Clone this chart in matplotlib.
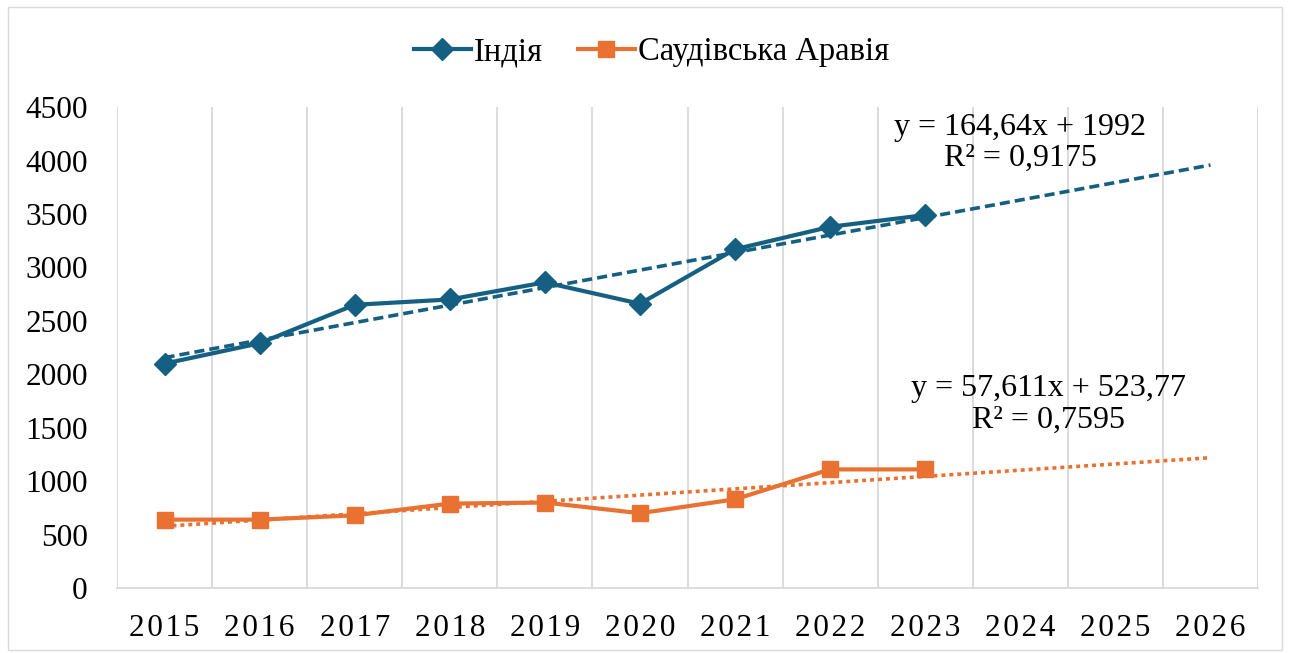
import numpy as np
import matplotlib.pyplot as plt
from matplotlib.patches import Rectangle

years = ['2015', '2016', '2017', '2018', '2019', '2020', '2021', '2022', '2023', '2024', '2025', '2026']
india = [2100, 2290, 2650, 2700, 2860, 2660, 3170, 3380, 3490]
saudi = [640, 640, 680, 790, 800, 700, 830, 1110, 1110]
india_eq = 'y = 164,64x + 1992\nR² = 0,9175'
saudi_eq = 'y = 57,611x + 523,77\nR² = 0,7595'

c_ind = '#156082'
c_sau = '#E97132'

plt.rcParams['font.family'] = ['Liberation Serif', 'DejaVu Serif']

fig = plt.figure(figsize=(12.9, 6.53), dpi=100)
ax = fig.add_axes([0.0907, 0.0995, 0.8845, 0.7365])
fig.patches.append(Rectangle((0.006, 0.005), 0.988, 0.984, transform=fig.transFigure,
                             fill=False, edgecolor='#d9d9d9', linewidth=1))

x_all = np.arange(len(years))
x_ind = np.arange(len(india))
x_sau = np.arange(len(saudi))

# linear trend lines (Excel style: x = 1..n), extended to the last category
p1 = np.polyfit(x_ind + 1, india, 1)
p2 = np.polyfit(x_sau + 1, saudi, 1)
ax.plot(x_all, np.polyval(p1, x_all + 1), color=c_ind, lw=2.6, ls=(0, (2.8, 1.4)), zorder=3)
ax.plot(x_all, np.polyval(p2, x_all + 1), color=c_sau, lw=2.6, ls=(0, (1.1, 1.1)), zorder=3)

ax.plot(x_ind, india, color=c_ind, lw=3, marker='D', ms=11, label='Індія', zorder=4)
ax.plot(x_sau, saudi, color=c_sau, lw=3, marker='s', ms=12, label='Саудівська Аравія', zorder=4)

ax.text(9.0, 4165, india_eq, ha='center', va='center', fontsize=23, linespacing=1.12)
ax.text(9.3, 1715, saudi_eq, ha='center', va='center', fontsize=23, linespacing=1.12)

ax.set_xlim(-0.5, len(years) - 0.5)
ax.set_ylim(0, 4500)
ax.set_yticks(np.arange(0, 4501, 500))
ax.set_xticks(x_all)
ax.set_xticklabels(['\u200a'.join(y) for y in years])
ax.set_xticks(np.arange(-0.5, len(years), 1), minor=True)
ax.grid(True, which='minor', axis='x', color='#d9d9d9', lw=1.3)
ax.tick_params(axis='both', which='both', length=0, labelsize=22.5)
ax.tick_params(axis='x', pad=19)
ax.tick_params(axis='y', pad=21)
for s in ['top', 'right', 'left']:
    ax.spines[s].set_visible(False)
ax.spines['bottom'].set_color('#d9d9d9')
ax.spines['bottom'].set_linewidth(1.3)

ax.legend(loc='center', bbox_to_anchor=(0.505, 1 - 52 / 653), bbox_transform=fig.transFigure,
          ncol=2, frameon=False, fontsize=23.5, handlelength=1.75, columnspacing=1.05,
          handletextpad=0.1)

fig.savefig('out.png', dpi=100)
